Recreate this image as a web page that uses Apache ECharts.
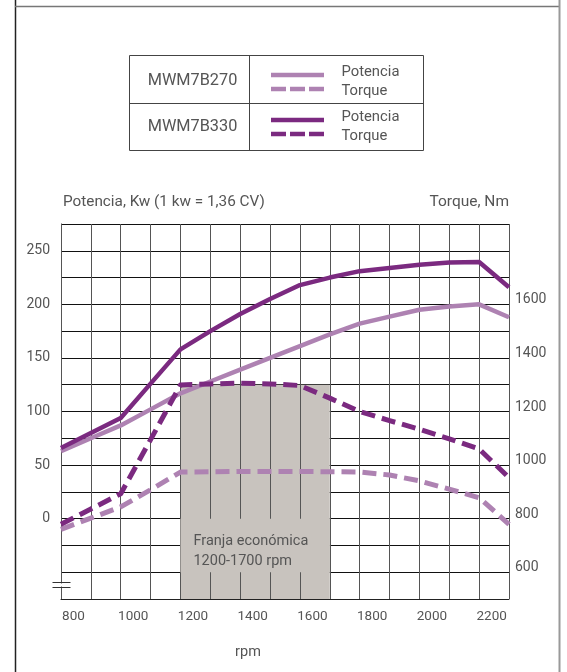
<!DOCTYPE html>
<html><head><meta charset="utf-8">
<script src="https://cdn.jsdelivr.net/npm/echarts@6/dist/echarts.min.js"></script>
<style>html,body{margin:0;padding:0;background:#fff}#c{width:567px;height:672px}</style>
</head><body><div id="c"></div>
<script>
// ---- data ----
const rpm = [800, 900, 1000, 1100, 1200, 1300, 1400, 1500, 1600, 1700, 1800, 1900, 2000, 2100, 2200, 2300];
const power270 = [63, 75, 87, 102, 117, 128, 139, 150, 161, 172, 182, 188.5, 195, 198, 200, 188];
const power330 = [66, 80, 94, 126, 158, 175, 191, 205, 218, 225, 231, 234, 237, 239, 239.5, 216];
const torque270 = [760, 802, 844, 908, 974, 975, 976, 976, 976, 975, 974, 963, 941, 910, 878, 779];
const torque330 = [779, 836, 893, 1095, 1299, 1303, 1306, 1303, 1297, 1250, 1200, 1166, 1134, 1098, 1060, 953];
const xTickLabels = [800, 1000, 1200, 1400, 1600, 1800, 2000, 2200];
const powerTickLabels = [0, 50, 100, 150, 200, 250];
const torqueTickLabels = [600, 800, 1000, 1200, 1400, 1600];
const powerRange = [-75, 275];
const torqueRange = [500, 1900];
const ecoBand = [1200, 1700];
const ecoBandTop = 125;
const ecoLabelBox = [-50, 0];
const ecoLabel = 'Franja económica\n1200-1700 rpm';
const models = ['MWM7B270', 'MWM7B330'];
const curveNames = ['Potencia', 'Torque'];

// ---- style ----
const FONT = 'Roboto, "Noto Sans", sans-serif';
const TXT = '#555';
const LIGHT = '#ae82b2';
const DARK = '#7b2a80';
const SHADE = '#c8c3be';
const DASH = [14, 7];

const chart = echarts.init(document.getElementById('c'), null, {renderer: 'canvas'});
const pair = arr => rpm.map((r, i) => [r, arr[i]]);
const lineSeries = (name, arr, color, dashed, yIdx) => ({
  type: 'line', name, data: pair(arr), yAxisIndex: yIdx, z: 4,
  symbol: 'none', silent: true, smooth: false,
  itemStyle: {color},
  lineStyle: {color, width: dashed ? 5 : 4.5, type: dashed ? DASH : 'solid', cap: 'butt', join: 'round'}
});

const option = {
  animation: false,
  grid: {left: 61, right: 58, top: 224, bottom: 73, containLabel: false},
  xAxis: {
    type: 'value', min: rpm[0], max: rpm[rpm.length - 1], interval: 100, z: 2,
    axisLine: {show: true, onZero: false, lineStyle: {color: '#222', width: 1}},
    axisTick: {show: false},
    splitLine: {show: true, lineStyle: {color: '#555', width: 1}},
    axisLabel: {color: TXT, fontFamily: FONT, fontSize: 13.5, margin: 11, padding: [0, 0, 0, 25],
      formatter: v => xTickLabels.includes(v) ? String(v) : ''},
    name: 'rpm', nameLocation: 'middle', nameGap: 46,
    nameTextStyle: {color: TXT, fontFamily: FONT, fontSize: 14.5, padding: [0, 74, 0, 0]}
  },
  yAxis: [{
    type: 'value', min: powerRange[0], max: powerRange[1], interval: 25, z: 0, position: 'left',
    axisLine: {show: true, onZero: false, lineStyle: {color: '#222', width: 1}},
    axisTick: {show: false},
    splitLine: {show: true, lineStyle: {color: '#111', width: 1}},
    axisLabel: {color: TXT, fontFamily: FONT, fontSize: 14, margin: 11,
      formatter: v => powerTickLabels.includes(v) ? String(v) : ''},
    name: 'Potencia, Kw (1 kw = 1,36 CV)', nameLocation: 'end', nameGap: 14,
    nameTextStyle: {color: TXT, fontFamily: FONT, fontSize: 15.3, align: 'left', padding: [0, 0, 0, 2]}
  }, {
    type: 'value', min: torqueRange[0], max: torqueRange[1], interval: 100, z: 0, position: 'right',
    axisLine: {show: false}, axisTick: {show: false}, splitLine: {show: false},
    axisLabel: {color: TXT, fontFamily: FONT, fontSize: 14, margin: 6, verticalAlign: 'bottom', lineHeight: 9,
      formatter: v => torqueTickLabels.includes(v) ? String(v) : ''},
    name: 'Torque, Nm', nameLocation: 'end', nameGap: 14,
    nameTextStyle: {color: TXT, fontFamily: FONT, fontSize: 15.5, align: 'right'}
  }],
  series: [
    {type: 'line', name: 'band', data: [], z: 1, silent: true,
      markArea: {silent: true, z: 1, itemStyle: {color: SHADE},
        data: [[{xAxis: ecoBand[0], yAxis: powerRange[0]}, {xAxis: ecoBand[1], yAxis: ecoBandTop}]]}},
    {type: 'line', name: 'bandLabel', data: [], z: 3, silent: true,
      markArea: {silent: true, z: 3, itemStyle: {color: SHADE},
        label: {show: true, position: 'insideLeft', distance: 13, offset: [0, 6],
          color: TXT, fontFamily: FONT, fontSize: 14.5, lineHeight: 20, formatter: ecoLabel},
        data: [[{xAxis: ecoBand[0], yAxis: ecoLabelBox[0]}, {xAxis: ecoBand[1], yAxis: ecoLabelBox[1]}]]}},
    lineSeries('MWM7B270 Potencia', power270, LIGHT, false, 0),
    lineSeries('MWM7B270 Torque', torque270, LIGHT, true, 1),
    lineSeries('MWM7B330 Potencia', power330, DARK, false, 0),
    lineSeries('MWM7B330 Torque', torque330, DARK, true, 1)
  ],
  graphic: [
    // page frame
    {type: 'line', z: 10, silent: true, shape: {x1: 15.5, y1: 0, x2: 15.5, y2: 672}, style: {stroke: '#222', lineWidth: 1.5}},
    {type: 'line', z: 10, silent: true, shape: {x1: 15, y1: 6.5, x2: 560, y2: 6.5}, style: {stroke: '#777', lineWidth: 1.5}},
    {type: 'line', z: 10, silent: true, shape: {x1: 559.5, y1: 0, x2: 559.5, y2: 672}, style: {stroke: '#999', lineWidth: 2}},
    // axis break
    {type: 'rect', z: 10, silent: true, shape: {x: 58, y: 583.5, width: 6, height: 3}, style: {fill: '#fff'}},
    {type: 'line', z: 10, silent: true, shape: {x1: 52.5, y1: 582.5, x2: 70.5, y2: 582.5}, style: {stroke: '#333', lineWidth: 1}},
    {type: 'line', z: 10, silent: true, shape: {x1: 52.5, y1: 587.5, x2: 70.5, y2: 587.5}, style: {stroke: '#333', lineWidth: 1}},
    // legend table
    {type: 'rect', z: 10, silent: true, shape: {x: 129.5, y: 55.5, width: 294, height: 95}, style: {fill: 'none', stroke: '#444', lineWidth: 1}},
    {type: 'line', z: 10, silent: true, shape: {x1: 129.5, y1: 103.5, x2: 423.5, y2: 103.5}, style: {stroke: '#444', lineWidth: 1}},
    {type: 'line', z: 10, silent: true, shape: {x1: 249.5, y1: 55.5, x2: 249.5, y2: 150.5}, style: {stroke: '#444', lineWidth: 1}},
    {type: 'text', z: 10, silent: true, style: {text: models[0], x: 192.5, y: 81, fill: TXT, font: '16.3px ' + FONT, textAlign: 'center', textVerticalAlign: 'middle'}},
    {type: 'text', z: 10, silent: true, style: {text: models[1], x: 192.5, y: 127, fill: TXT, font: '16.3px ' + FONT, textAlign: 'center', textVerticalAlign: 'middle'}},
    {type: 'line', z: 10, silent: true, shape: {x1: 271, y1: 75, x2: 324, y2: 75}, style: {stroke: LIGHT, lineWidth: 4.5}},
    {type: 'line', z: 10, silent: true, shape: {x1: 271, y1: 89, x2: 324, y2: 89}, style: {stroke: LIGHT, lineWidth: 4.5, lineDash: [15, 4]}},
    {type: 'line', z: 10, silent: true, shape: {x1: 271, y1: 120, x2: 324, y2: 120}, style: {stroke: DARK, lineWidth: 4.5}},
    {type: 'line', z: 10, silent: true, shape: {x1: 271, y1: 134, x2: 324, y2: 134}, style: {stroke: DARK, lineWidth: 4.5, lineDash: [15, 4]}},
    {type: 'text', z: 10, silent: true, style: {text: curveNames[0], x: 341.5, y: 72.5, fill: TXT, font: '14.8px ' + FONT, textAlign: 'left', textVerticalAlign: 'middle'}},
    {type: 'text', z: 10, silent: true, style: {text: curveNames[1], x: 341.5, y: 91, fill: TXT, font: '14.8px ' + FONT, textAlign: 'left', textVerticalAlign: 'middle'}},
    {type: 'text', z: 10, silent: true, style: {text: curveNames[0], x: 341.5, y: 117.5, fill: TXT, font: '14.8px ' + FONT, textAlign: 'left', textVerticalAlign: 'middle'}},
    {type: 'text', z: 10, silent: true, style: {text: curveNames[1], x: 341.5, y: 136, fill: TXT, font: '14.8px ' + FONT, textAlign: 'left', textVerticalAlign: 'middle'}}
  ]
};
chart.setOption(option);
</script>
</body></html>
